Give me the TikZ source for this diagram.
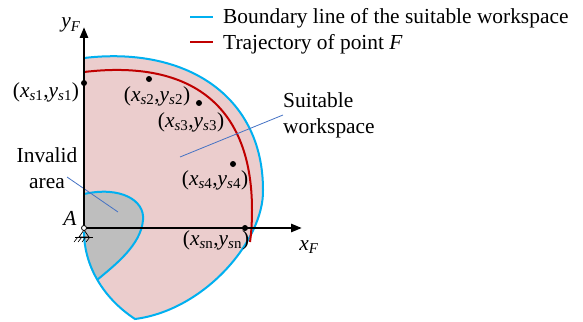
\documentclass[tikz,border=0pt]{standalone}
\usepackage{fontspec}
\setmainfont{Liberation Serif}
\usepackage{xcolor}
\usepackage{tikz}
\usetikzlibrary{arrows.meta, positioning}

\definecolor{bndblue}{HTML}{00B0F0}
\definecolor{trjred}{HTML}{C00000}
\definecolor{wspink}{HTML}{EBCDCD}
\definecolor{invgray}{HTML}{BEBEBE}
\definecolor{leadblue}{HTML}{4472C4}
\newcommand{\ptlab}[1]{(\textit{x}\textsubscript{\textit{s}#1},\textit{y}\textsubscript{\textit{s}#1})}

\begin{document}
\begin{tikzpicture}[x=1pt, y=-1pt, font=\fontsize{21.4}{26}\selectfont]
    % Define styles
    \tikzstyle{boundary} = [draw=bndblue, line width=2pt]
    \tikzstyle{traj} = [draw=trjred, line width=2pt]
    \tikzstyle{axis} = [line width=2.6pt, -{Triangle[length=11pt, width=8pt]}]
    \tikzstyle{dot} = [circle, fill=black, inner sep=0pt, minimum size=6pt]
    \tikzstyle{txt} = [inner sep=0pt]
    \tikzstyle{leader} = [draw=leadblue, line width=0.8pt]

    \useasboundingbox (0,0) rectangle (583,321);

    % Outer boundary of the suitable workspace
    \def\outerbound{(84,58) .. controls (185,46) and (263,95) .. (263,190)
        .. controls (264,240) and (205,310) .. (135,319)
        .. controls (100,296) and (84,262) .. (84,232)}
    % Boundary of the invalid area
    \def\innerbound{(84,194) .. controls (120,186) and (145,200) .. (143,220)
        .. controls (141,245) and (115,265) .. (97,280)}

    % Workspace and invalid area
    \fill[wspink] \outerbound;
    \fill[invgray] \innerbound .. controls (89,268) and (84,252) .. (84,232);
    \draw[boundary] \innerbound;
    \draw[boundary] \outerbound;

    % Trajectory of point F
    \draw[traj] (84,72) .. controls (185,60) and (252,100) .. (252,210)
        .. controls (252,225) and (251,235) .. (250,242);

    % Leader lines
    \node[txt, anchor=west, align=left] (wslab) at (283,115) {Suitable\\workspace};
    \node[txt, align=center] (invlab) at (47,168) {Invalid\\area};
    \coordinate (wstail) at (180,157);
    \coordinate (invtail) at (67,177);
    \coordinate (invtip) at (118,212);
    \draw[leader] (wstail) -- (wslab.west);
    \draw[leader] (invtail) -- (invtip);

    % Axes
    \coordinate (O) at (84,228);
    \coordinate (yend) at (84,27);
    \coordinate (xend) at (302,228);
    \draw[axis] (O) -- (yend);
    \draw[axis] (O) -- (xend);
    \node[txt, anchor=base] (ylab) at (71,28) {\textit{y}\textsubscript{\textit{F}}};
    \node[txt, anchor=base] (xlab) at (309,250) {\textit{x}\textsubscript{\textit{F}}};

    % Support at A
    \draw[line width=0.7pt] (84,230) -- (79,237) -- (89,237) -- cycle;
    \draw[line width=0.7pt] (75,237) -- (93,237);
    \draw[line width=0.6pt] (78,237) -- (74,242);
    \draw[line width=0.6pt] (82,237) -- (78,242);
    \draw[line width=0.6pt] (86,237) -- (82,242);
    \draw[line width=0.6pt] (90,237) -- (86,242);
    \node[circle, draw, fill=white, line width=0.8pt, inner sep=0pt, minimum size=5pt] (A) at (O) {};
    \node[txt, anchor=base] (Alab) at (70,225) {\textit{A}};

    % Sample points
    \node[dot] (p1) at (84,83) {};
    \node[dot] (p2) at (149,79) {};
    \node[dot] (p3) at (199,103) {};
    \node[dot] (p4) at (233,164) {};
    \node[dot] (pn) at (245,228) {};
    \node[txt] (p1lab) at (46,92) {\ptlab{1}};
    \node[txt] (p2lab) at (157,96) {\ptlab{2}};
    \node[txt] (p3lab) at (191,122) {\ptlab{3}};
    \node[txt] (p4lab) at (215,180) {\ptlab{4}};
    \node[txt] (pnlab) at (216,240) {\ptlab{n}};

    % Legend
    \node[txt, anchor=base west] (leg1) at (223,24) {Boundary line of the suitable workspace};
    \node[txt, anchor=base west] (leg2) at (223,50) {Trajectory of point \textit{F}};
    \draw[boundary] ([xshift=-33pt, yshift=2pt]leg1.west) -- ([xshift=-10pt, yshift=2pt]leg1.west);
    \draw[traj] ([xshift=-33pt, yshift=2.5pt]leg2.west) -- ([xshift=-10pt, yshift=2.5pt]leg2.west);
\end{tikzpicture}
\end{document}
